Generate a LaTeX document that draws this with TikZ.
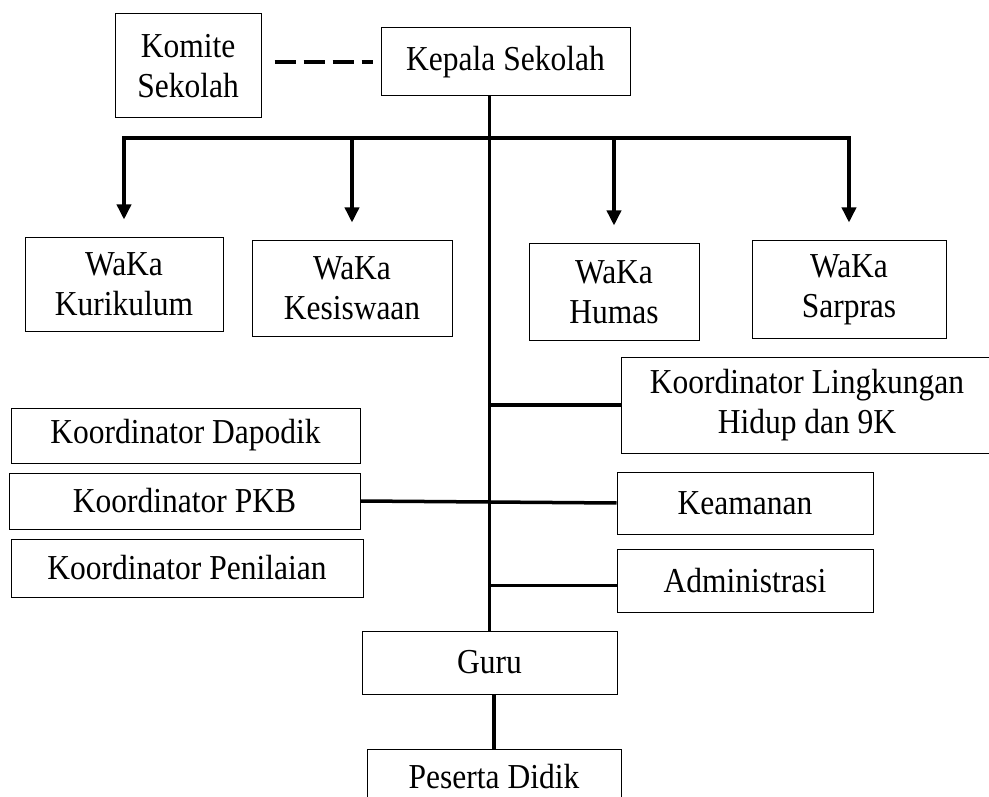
\documentclass[tikz,border=0pt]{standalone}
\usepackage{fontspec}
\setmainfont{Liberation Serif}[FakeStretch=0.9]
\usetikzlibrary{arrows.meta}
\begin{document}
\begin{tikzpicture}[x=1pt,y=-1pt,
    font=\fontsize{35}{40}\selectfont,
    >={Triangle[width=14pt,length=15pt]},
    box/.style={draw,line width=1pt,inner sep=0pt,align=center},
    link/.style={line width=3.5pt},
    dashlink/.style={line width=3.5pt,dash pattern=on 21pt off 8pt}]
  \clip (0,0) rectangle (989,797);
  % pimpinan
  \node[box,minimum width=146,minimum height=104] (komite) at (188,66) {Komite\\Sekolah};
  \node[box,minimum width=249,minimum height=68] (kepala) at (505.5,62) {Kepala Sekolah};
  % wakil kepala
  \node[box,minimum width=198,minimum height=93] (kur) at (124,284.5) {WaKa\\Kurikulum};
  \node[box,minimum width=200,minimum height=95] (kes) at (352,288.5) {WaKa\\Kesiswaan};
  \node[box,minimum width=170,minimum height=96] (hum) at (614,292) {WaKa\\Humas};
  \node[box,minimum width=194,minimum height=97] (sar) at (849,289.5) {WaKa\\Sarpras};
  % koordinator
  \node[box,minimum width=372,minimum height=96] (ling) at (807,405) {Koordinator Lingkungan\\Hidup dan 9K};
  \node[box,minimum width=349,minimum height=55] (dap) at (185.5,435.5) {Koordinator Dapodik};
  \node[box,minimum width=351,minimum height=56] (pkb) at (184.5,501) {Koordinator PKB};
  \node[box,minimum width=352,minimum height=58] (pen) at (187,568) {Koordinator Penilaian};
  % staf
  \node[box,minimum width=256,minimum height=62] (keam) at (745,503) {Keamanan};
  \node[box,minimum width=256,minimum height=63] (adm) at (745,580.5) {Administrasi};
  \node[box,minimum width=255,minimum height=63] (guru) at (489.5,662.5) {Guru};
  \node[box,minimum width=254,minimum height=56] (peserta) at (494,777) {Peserta Didik};
  % garis putus-putus komite
  \draw[dashlink,shorten <=13pt,shorten >=8pt] (komite.east |- kepala.west) -- (kepala.west);
  % garis utama
  \coordinate (bar) at (0,138);
  \draw[link] (kepala.south -| guru.north) -- (guru.north);
  \draw[link] ([xshift=-1.75pt]kur.north |- bar) -- ([xshift=1.75pt]sar.north |- bar);
  % panah ke wakil kepala
  \foreach \w in {kur,kes,hum,sar}
    \draw[link,->,shorten >=18pt] (\w.north |- bar) -- (\w.north);
  % cabang
  \draw[link] (ling.west -| guru.north) -- (ling.west);
  \draw[link] (pkb.east) -- (keam.west);
  \draw[link] ([yshift=-5pt]adm.west -| guru.north) -- ([yshift=-5pt]adm.west);
  \draw[link] (guru.south -| peserta.north) -- (peserta.north);
\end{tikzpicture}
\end{document}
